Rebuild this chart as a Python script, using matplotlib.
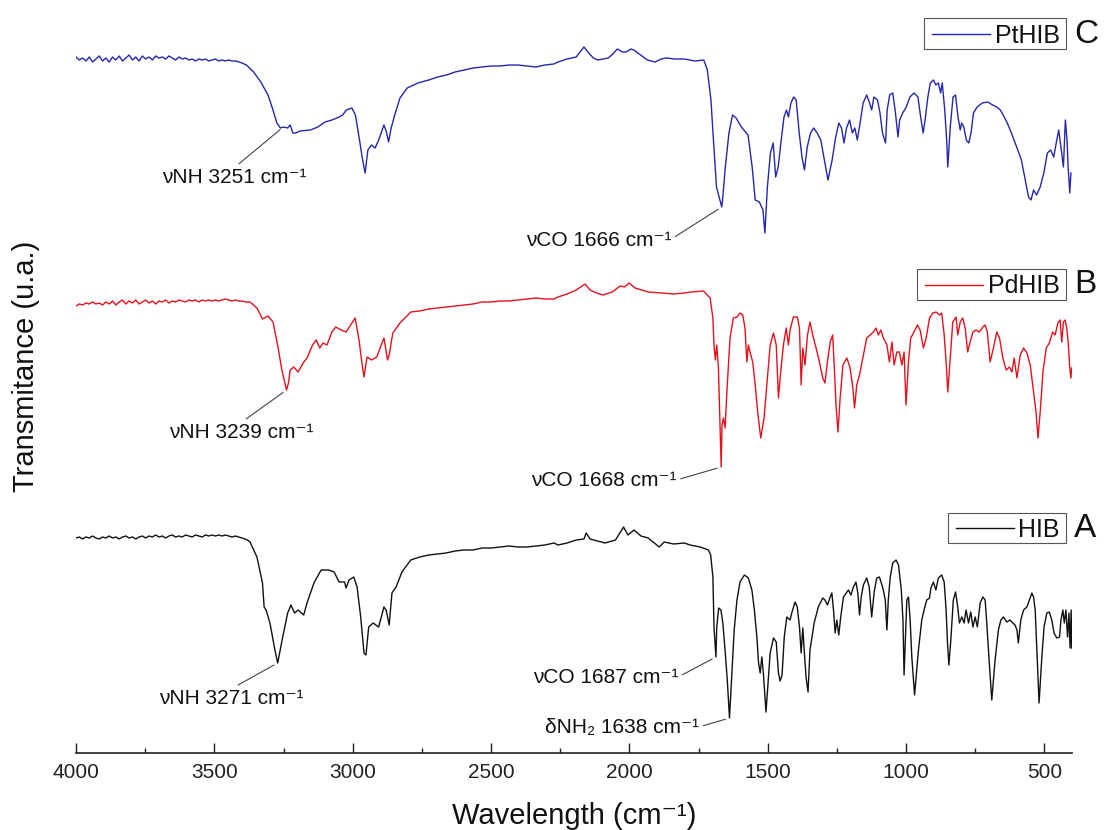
import matplotlib
matplotlib.use("Agg")
import matplotlib.pyplot as plt
from matplotlib.ticker import MultipleLocator
from matplotlib.patches import Rectangle
from matplotlib.lines import Line2D
import numpy as np

plt.rcParams['font.family'] = ['Liberation Sans', 'DejaVu Sans']

# ---------------- FTIR spectra (wavenumber in cm-1, transmittance in a.u.) ----------------
hib_wn = [4000, 3988, 3976, 3964, 3952, 3940, 3928, 3916, 3904, 3892, 3880, 3868, 3856, 3844,
          3832, 3820, 3808, 3796, 3784, 3772, 3760, 3748, 3736, 3724, 3712, 3700, 3688, 3676,
          3664, 3652, 3640, 3628, 3616, 3604, 3592, 3580, 3568, 3556, 3544, 3532, 3520, 3508,
          3496, 3484, 3472, 3460, 3448, 3436, 3424, 3412, 3400, 3390, 3380, 3371, 3346, 3326,
          3320, 3313, 3299, 3281, 3271, 3255, 3235, 3223, 3210, 3197, 3177, 3165, 3140, 3114,
          3087, 3067, 3049, 3029, 3024, 3013, 2996, 2984, 2971, 2959, 2952, 2942, 2926, 2906,
          2887, 2879, 2868, 2858, 2843, 2822, 2790, 2758, 2725, 2693, 2662, 2630, 2597, 2565,
          2532, 2500, 2467, 2435, 2402, 2370, 2337, 2305, 2272, 2258, 2225, 2192, 2164, 2156,
          2142, 2115, 2088, 2050, 2021, 2005, 1983, 1958, 1932, 1892, 1874, 1840, 1802, 1780,
          1744, 1714, 1706, 1698, 1694, 1687, 1684, 1677, 1669, 1662, 1654, 1646, 1638, 1630,
          1621, 1611, 1600, 1584, 1570, 1557, 1548, 1539, 1533, 1527, 1521, 1515, 1506, 1491,
          1479, 1469, 1461, 1455, 1448, 1440, 1431, 1419, 1413, 1401, 1393, 1385, 1379, 1373,
          1368, 1361, 1354, 1347, 1332, 1317, 1301, 1293, 1284, 1274, 1268, 1262, 1256, 1250,
          1243, 1236, 1226, 1216, 1208, 1199, 1190, 1181, 1174, 1168, 1162, 1154, 1142, 1133,
          1124, 1115, 1106, 1096, 1087, 1082, 1075, 1069, 1064, 1057, 1048, 1036, 1027, 1021,
          1017, 1011, 1007, 1002, 997, 991, 985, 979, 969, 955, 943, 933, 925, 915, 910, 901,
          892, 883, 871, 862, 855, 850, 845, 838, 829, 821, 813, 807, 798, 790, 783, 774,
          766, 758, 750, 742, 732, 722, 714, 708, 702, 690, 678, 666, 657, 648, 636, 624,
          614, 606, 599, 594, 585, 575, 563, 554, 545, 539, 533, 527, 519, 509, 501, 491,
          482, 473, 465, 455, 445, 440, 433, 428, 422, 416, 411, 407, 403, 401]
hib_t = [215, 216, 214, 216, 215, 217, 215, 214, 216, 215, 217, 215, 216, 214,
         216, 217, 215, 216, 214, 216, 217, 215, 217, 216, 218, 216, 217, 215,
         217, 218, 216, 217, 216, 218, 217, 216, 218, 217, 216, 218, 217, 218,
         217, 218, 217, 218, 217, 216, 217, 216, 215, 214, 213, 211, 196, 170,
         146, 143, 130, 103, 90, 113, 140, 148, 140, 143, 138, 150, 170, 183,
         183, 181, 171, 171, 165, 173, 176, 166, 136, 100, 98, 126, 130, 126,
         146, 143, 128, 160, 166, 181, 193, 196, 198, 199, 200, 202, 203, 203,
         205, 205, 206, 207, 206, 206, 207, 208, 210, 208, 210, 213, 214, 220,
         214, 212, 210, 213, 226, 218, 223, 217, 215, 206, 211, 209, 210, 208,
         206, 203, 198, 176, 126, 96, 126, 145, 143, 130, 103, 73, 35, 76,
         123, 153, 171, 178, 175, 163, 143, 116, 90, 80, 96, 78, 41, 100,
         115, 111, 80, 72, 78, 116, 136, 133, 140, 151, 146, 126, 100, 125,
         103, 75, 61, 103, 130, 146, 155, 153, 148, 156, 160, 143, 120, 133,
         118, 136, 156, 160, 163, 158, 166, 171, 160, 138, 156, 168, 175, 166,
         136, 161, 175, 176, 168, 163, 153, 123, 153, 176, 190, 193, 188, 173,
         163, 133, 78, 116, 153, 156, 133, 96, 58, 103, 133, 145, 153, 155, 165, 171,
         163, 175, 178, 171, 143, 110, 88, 113, 153, 161, 146, 130, 136, 130, 143, 130,
         141, 126, 136, 126, 150, 156, 153, 130, 103, 53, 93, 123, 133, 136, 131, 133,
         130, 128, 123, 110, 133, 143, 146, 153, 160, 156, 143, 103, 50, 96, 126, 140,
         141, 133, 120, 115, 116, 133, 143, 130, 143, 116, 140, 105, 143, 105]

pdhib_wn = [4000, 3988, 3976, 3964, 3952, 3940, 3928, 3916, 3904, 3892, 3880, 3868, 3856, 3844,
            3832, 3820, 3808, 3796, 3784, 3772, 3760, 3748, 3736, 3724, 3712, 3700, 3688, 3676,
            3664, 3652, 3640, 3628, 3616, 3604, 3592, 3580, 3568, 3556, 3544, 3532, 3520, 3508,
            3496, 3484, 3472, 3460, 3448, 3436, 3424, 3412, 3400, 3385, 3371, 3346, 3326, 3306,
            3288, 3270, 3256, 3239, 3232, 3226, 3213, 3197, 3179, 3165, 3145, 3132, 3119, 3107,
            3093, 3075, 3061, 3042, 3024, 3003, 2991, 2977, 2968, 2959, 2948, 2932, 2913, 2887,
            2874, 2868, 2855, 2829, 2790, 2758, 2725, 2693, 2662, 2630, 2597, 2565, 2532, 2500,
            2467, 2435, 2402, 2370, 2337, 2305, 2272, 2258, 2225, 2192, 2160, 2142, 2118, 2095,
            2062, 2033, 2017, 2001, 1979, 1955, 1932, 1882, 1840, 1802, 1777, 1732, 1708, 1698,
            1694, 1689, 1684, 1678, 1674, 1668, 1665, 1660, 1654, 1646, 1636, 1624, 1611, 1600,
            1590, 1582, 1575, 1570, 1564, 1554, 1545, 1536, 1525, 1513, 1501, 1491, 1479, 1469,
            1461, 1453, 1443, 1433, 1425, 1419, 1407, 1393, 1385, 1379, 1373, 1365, 1356, 1347,
            1337, 1325, 1313, 1301, 1293, 1284, 1274, 1265, 1259, 1253, 1246, 1238, 1228, 1214,
            1202, 1192, 1186, 1178, 1168, 1156, 1142, 1130, 1118, 1108, 1100, 1091, 1082, 1069,
            1060, 1051, 1043, 1033, 1024, 1015, 1007, 1000, 991, 983, 971, 959, 949, 937, 927,
            915, 903, 891, 879, 871, 862, 855, 849, 840, 831, 819, 813, 804, 795, 786, 777,
            771, 758, 747, 735, 722, 714, 706, 696, 684, 672, 662, 650, 638, 626, 617, 609,
            599, 587, 575, 563, 551, 539, 530, 523, 515, 505, 493, 482, 470, 461, 451, 443,
            437, 431, 425, 419, 413, 409, 404, 401]
pdhib_t = [197, 199, 198, 200, 199, 201, 199, 200, 198, 201, 199, 202, 198, 201,
           203, 199, 202, 200, 203, 199, 201, 203, 200, 202, 199, 202, 201, 203,
           200, 202, 201, 203, 202, 201, 203, 202, 203, 201, 203, 202, 203, 202,
           203, 202, 203, 204, 203, 202, 203, 202, 202, 201, 201, 195, 184, 187,
           181, 156, 133, 113, 120, 133, 136, 131, 140, 145, 158, 163, 155, 160,
           158, 171, 176, 173, 171, 180, 185, 163, 143, 126, 146, 143, 146, 165,
           143, 148, 170, 180, 191, 192, 194, 195, 196, 197, 198, 199, 201, 201,
           202, 202, 203, 204, 205, 204, 204, 206, 209, 213, 219, 213, 210, 208,
           211, 217, 216, 220, 215, 213, 211, 210, 209, 210, 211, 212, 205, 185,
           158, 143, 158, 135, 95, 36, 78, 85, 75, 118, 165, 185, 186, 190,
           188, 175, 141, 158, 151, 141, 118, 91, 65, 85, 125, 158, 170, 158,
           105, 131, 158, 175, 158, 173, 186, 186, 175, 118, 155, 138, 168, 181,
           168, 155, 141, 125, 120, 141, 161, 168, 135, 98, 71, 105, 138, 145,
           135, 115, 95, 118, 128, 145, 165, 168, 171, 175, 168, 173, 165, 158,
           141, 161, 138, 151, 151, 138, 151, 98, 141, 165, 171, 178, 173, 155, 165,
           185, 190, 191, 188, 190, 168, 141, 111, 145, 181, 186, 168, 181, 185, 175, 151,
           158, 171, 173, 171, 176, 178, 171, 141, 155, 171, 165, 145, 133, 136, 131, 145,
           125, 148, 155, 150, 138, 111, 91, 65, 91, 131, 155, 160, 171, 168, 180, 183,
           161, 181, 183, 175, 158, 138, 125, 135]

pthib_wn = [4000, 3988, 3976, 3964, 3952, 3940, 3928, 3916, 3904, 3892, 3880, 3868, 3856, 3844,
            3832, 3820, 3808, 3796, 3784, 3772, 3760, 3748, 3736, 3724, 3712, 3700, 3688, 3676,
            3664, 3652, 3640, 3628, 3616, 3604, 3592, 3580, 3568, 3556, 3544, 3532, 3520, 3508,
            3496, 3484, 3472, 3460, 3448, 3436, 3423, 3410, 3400, 3384, 3358, 3332, 3306, 3288,
            3274, 3261, 3251, 3235, 3226, 3216, 3206, 3190, 3152, 3126, 3100, 3075, 3049, 3036,
            3023, 3003, 2990, 2977, 2964, 2955, 2945, 2932, 2919, 2906, 2887, 2878, 2870, 2861,
            2848, 2829, 2803, 2764, 2725, 2693, 2661, 2630, 2596, 2565, 2532, 2500, 2467, 2435,
            2402, 2370, 2338, 2305, 2273, 2258, 2225, 2192, 2164, 2147, 2130, 2114, 2095, 2076,
            2060, 2043, 2025, 2011, 1995, 1983, 1970, 1959, 1935, 1907, 1885, 1867, 1835, 1802,
            1763, 1731, 1718, 1705, 1696, 1685, 1666, 1663, 1653, 1640, 1627, 1614, 1595, 1571,
            1556, 1545, 1530, 1517, 1510, 1501, 1490, 1480, 1471, 1462, 1451, 1441, 1432, 1425,
            1416, 1406, 1397, 1386, 1376, 1367, 1357, 1345, 1334, 1321, 1308, 1295, 1282, 1267,
            1256, 1243, 1233, 1224, 1215, 1204, 1194, 1185, 1176, 1166, 1155, 1142, 1133, 1124,
            1116, 1103, 1094, 1085, 1074, 1068, 1059, 1048, 1038, 1029, 1023, 1012, 999, 986,
            971, 957, 947, 938, 931, 921, 912, 901, 892, 883, 875, 869, 860, 853, 849, 840,
            830, 821, 812, 804, 799, 791, 782, 773, 765, 756, 743, 724, 704, 687, 672, 659,
            645, 634, 619, 600, 583, 569, 557, 548, 539, 528, 515, 502, 489, 477, 466, 457,
            448, 440, 431, 424, 418, 414, 408, 404]
pthib_t = [196, 193, 195, 192, 196, 191, 194, 197, 192, 195, 191, 196, 193, 197,
           192, 195, 198, 193, 196, 192, 197, 194, 196, 193, 197, 195, 196, 194,
           197, 195, 193, 196, 194, 195, 193, 194, 192, 194, 193, 194, 192, 193,
           194, 192, 193, 192, 193, 192, 192, 191, 190, 188, 181, 171, 158, 143,
           130, 125, 126, 125, 128, 120, 120, 122, 123, 126, 131, 133, 136, 138,
           143, 145, 138, 116, 93, 80, 103, 108, 105, 113, 128, 121, 111, 125,
           138, 155, 165, 170, 173, 176, 178, 181, 183, 185, 186, 187, 187, 188,
           188, 187, 186, 188, 189, 191, 194, 196, 206, 200, 195, 193, 194, 195,
           199, 204, 201, 201, 204, 203, 200, 198, 193, 191, 194, 195, 194, 194,
           192, 193, 183, 153, 113, 66, 46, 53, 86, 120, 138, 135, 126, 118,
           86, 53, 51, 43, 20, 66, 100, 110, 76, 86, 113, 136, 143, 136,
           150, 156, 153, 120, 96, 83, 106, 120, 125, 120, 113, 93, 73, 93,
           113, 130, 125, 110, 125, 133, 120, 125, 113, 130, 150, 158, 151, 143,
           156, 153, 140, 120, 110, 143, 158, 160, 140, 116, 133, 140, 146, 156,
           160, 156, 136, 120, 133, 156, 170, 173, 168, 170, 160, 170, 143, 113, 86, 126,
           156, 158, 136, 123, 130, 126, 113, 110, 120, 140, 146, 150, 151, 148, 146, 143,
           136, 130, 120, 106, 93, 73, 56, 53, 63, 58, 66, 80, 100, 103, 96, 110,
           123, 106, 86, 133, 113, 86, 60, 80]

series_names = ['HIB', 'PdHIB', 'PtHIB']
series_tags = ['A', 'B', 'C']
series_colors = ['#111111', '#e3121c', '#2626ad']

# labelled bands: (series index, band text, peak position in cm-1)
band_labels = [
    (2, 'νNH 3251 cm⁻¹', 3251),
    (2, 'νCO 1666 cm⁻¹', 1666),
    (1, 'νNH 3239 cm⁻¹', 3239),
    (1, 'νCO 1668 cm⁻¹', 1668),
    (0, 'νNH 3271 cm⁻¹', 3271),
    (0, 'νCO 1687 cm⁻¹', 1687),
    (0, 'δNH₂ 1638 cm⁻¹', 1638),
]

# ---------------- layout ----------------
W, H = 1105, 830
fig = plt.figure(figsize=(W / 100, H / 100), dpi=100)
ax = fig.add_axes([76 / W, 77 / H, 996 / W, 753 / H])


def fig_xy(x_px, y_px):
    """Pixel position (from the top-left corner) to figure fraction."""
    return x_px / W, 1 - y_px / H


offsets = [0, 250, 500]
spectra = [(hib_wn, hib_t), (pdhib_wn, pdhib_t), (pthib_wn, pthib_t)]

lines = []
for (wn, t), off, col in zip(spectra, offsets, series_colors):
    ln, = ax.plot(wn, np.asarray(t) + off, color=col, lw=1.0, solid_joinstyle='round')
    lines.append(ln)

ax.set_xlim(4000, 400)
ax.set_ylim(0, 753)

for side in ('top', 'right', 'left'):
    ax.spines[side].set_visible(False)
ax.spines['bottom'].set_linewidth(1.2)
ax.spines['bottom'].set_color('#222222')
ax.set_yticks([])
ax.xaxis.set_major_locator(MultipleLocator(500))
ax.xaxis.set_minor_locator(MultipleLocator(250))
ax.tick_params(axis='x', which='major', direction='in', length=7.5, width=1.0,
               colors='#222222', labelsize=15, pad=7)
ax.tick_params(axis='x', which='minor', direction='in', length=3.8, width=1.0, colors='#222222')
ax.set_xticks([4000, 3500, 3000, 2500, 2000, 1500, 1000, 500])

ax.set_xlabel('Wavelength (cm⁻¹)', fontsize=21, color='#111111', va='baseline')
ax.xaxis.set_label_coords(0.5, -(824 - 753) / 753)
ax.set_ylabel('Transmitance (u.a.)', fontsize=21, color='#111111', va='baseline')
ax.yaxis.set_label_coords((34 - 76) / 996, 0.514)

# ---------------- band annotations ----------------
text_pos = [  # (text centre x in cm-1, text centre y, anchor on text box)
    (3427, 576, (0.5, 1.0)),
    (2111, 513, (1.0, 0.55)),
    (3403, 321, (0.5, 1.0)),
    (2092, 273, (1.0, 0.5)),
    (3437, 55, (0.5, 1.0)),
    (2086, 76, (1.0, 0.5)),
    (2026, 26, (1.0, 0.5)),
]
for (si, txt, peak), (tx, ty, rel) in zip(band_labels, text_pos):
    wn = np.asarray(spectra[si][0])
    tv = np.asarray(spectra[si][1])
    k = int(np.argmin(np.abs(wn - peak)))
    ax.annotate(txt, xy=(peak, tv[k] + offsets[si]), xytext=(tx, ty),
                textcoords='data', ha='center', va='center', fontsize=15, color='#111111',
                arrowprops=dict(arrowstyle='-', color='#444444', lw=0.8, relpos=rel,
                                shrinkA=1, shrinkB=3))

# ---------------- per-spectrum legend boxes with panel letters ----------------
renderer = fig.canvas.get_renderer()
box_right = 1066          # px
legend_baselines = [536.7, 293.3, 42.7]   # px from top, for A, B, C
for ln, name, tag, yb in zip(lines, series_names, series_tags, legend_baselines):
    label = fig.text(*fig_xy(box_right - 6, yb), name, ha='right', va='baseline',
                     fontsize=18, color='#111111')
    tw = label.get_window_extent(renderer).width
    text_left = box_right - 6 - tw
    line_right = text_left - 5
    line_left = line_right - 58
    box_left = line_left - 8
    y_line = yb - 8.6
    fig.add_artist(Line2D([line_left / W, line_right / W], [1 - y_line / H] * 2,
                          transform=fig.transFigure, color=ln.get_color(), lw=1.0))
    x0, y0 = fig_xy(box_left, yb + 6.3)
    fig.add_artist(Rectangle((x0, y0), (box_right - box_left) / W, 30.5 / H,
                             transform=fig.transFigure, fill=False,
                             edgecolor='#555555', lw=0.8))
    fig.text(*fig_xy(1074, yb), tag, ha='left', va='baseline', fontsize=24, color='#111111')

fig.savefig('out.png', dpi=100)
